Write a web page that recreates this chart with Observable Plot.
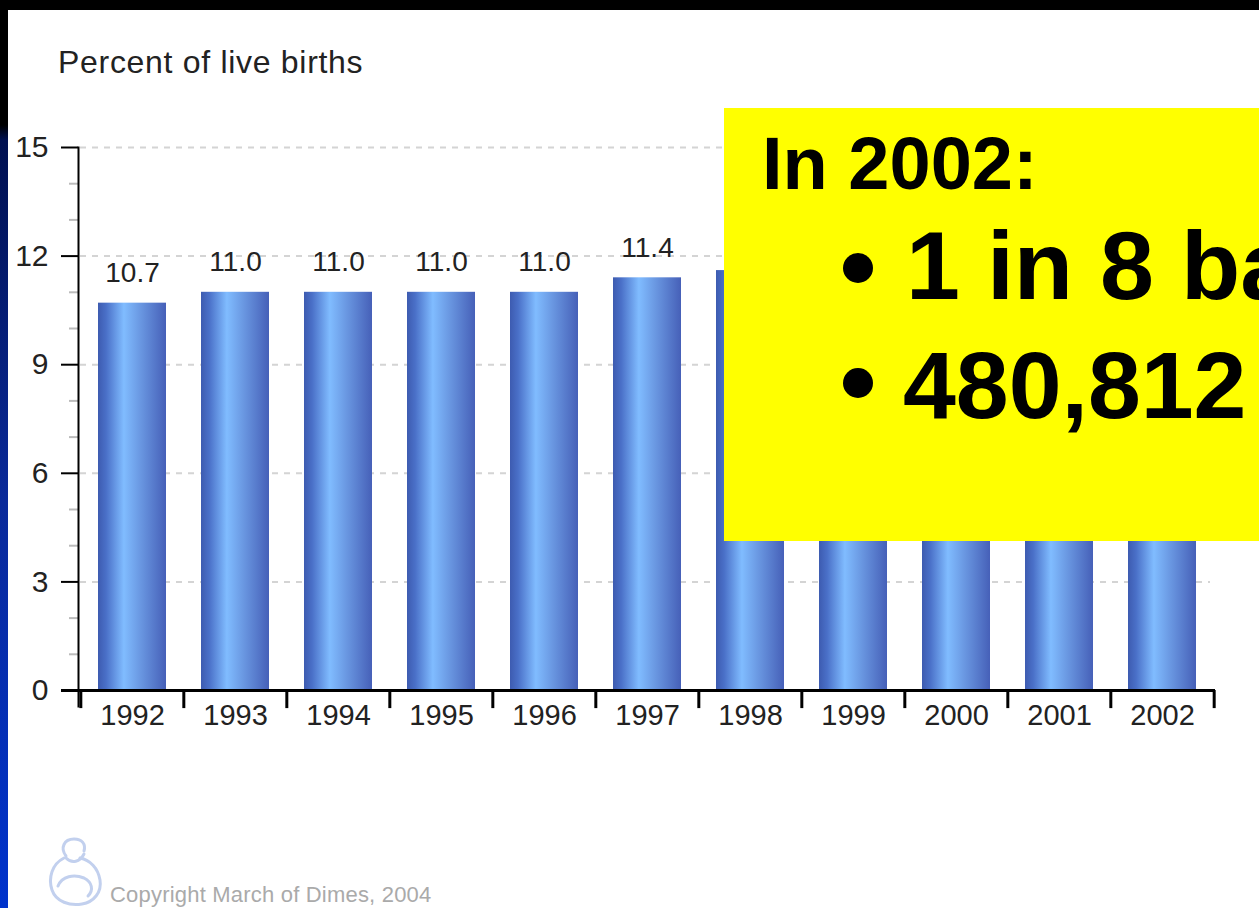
<!DOCTYPE html>
<html>
<head>
<meta charset="utf-8">
<script src="https://cdn.jsdelivr.net/npm/d3@7"></script>
<script src="https://cdn.jsdelivr.net/npm/@observablehq/plot@0.6"></script>
<style>
  html, body { margin: 0; padding: 0; }
  body { width: 1259px; height: 908px; overflow: hidden; position: relative; background: #fff;
         font-family: "Liberation Sans", Arial, sans-serif; }
  #topbar { position: absolute; left: 0; top: 0; width: 1259px; height: 10px; background: #000; }
  #leftbar { position: absolute; left: 0; top: 0; width: 8px; height: 908px;
             background: linear-gradient(to bottom, #000 0px, #000 125px, #001050 140px, #0a2a9a 500px, #0033cc 908px); }
  #title { position: absolute; left: 58px; top: 44px; font-size: 32px; color: #222; letter-spacing: 0.7px; }
  #chart { position: absolute; left: 0; top: 0; }
  #box { position: absolute; left: 724px; top: 108px; width: 600px; height: 433px; background: #ffff00; z-index: 5; }
  .bt { position: absolute; font-weight: bold; color: #000; white-space: nowrap; line-height: 1; }
  .dot { position: absolute; width: 30px; height: 30px; border-radius: 50%; background: #000; }
  #copy { position: absolute; left: 110px; top: 882px; font-size: 22px; color: #aaa; white-space: nowrap; letter-spacing: 0.2px; }
  #logo { position: absolute; left: 44px; top: 834px; }
</style>
</head>
<body>
<div id="topbar"></div>
<div id="leftbar"></div>
<div id="title">Percent of live births</div>
<div id="chart"></div>
<div id="box">
  <div class="bt" id="l1" style="left:38px; top:19px; font-size:74px;">In 2002:</div>
  <div class="dot" style="left:119px; top:145px;"></div>
  <div class="bt" id="l2" style="left:182px; top:109px; font-size:97px;">1 in 8 babies was born preterm</div>
  <div class="dot" style="left:119px; top:260px;"></div>
  <div class="bt" id="l3" style="left:179px; top:230px; font-size:95px;">480,812 babies</div>
</div>
<svg id="logo" width="64" height="74" viewBox="0 0 64 74">
  <g fill="none" stroke="#c2d0ee" stroke-width="3" stroke-linecap="round">
    <path d="M22 22 C16 14 20 5 30 5 C38 5 42 10 40 17"/>
    <path d="M20 24 C8 30 4 44 8 56 C12 68 26 72 38 70 C50 68 58 58 56 46 C54 34 46 26 36 24"/>
    <path d="M14 52 C18 42 30 40 40 44 C48 48 50 56 44 62"/>
    <path d="M22 24 C28 30 36 28 40 20"/>
  </g>
</svg>
<div id="copy">Copyright March of Dimes, 2004</div>
<script>
const years = ["1992","1993","1994","1995","1996","1997","1998","1999","2000","2001","2002"];
const rates = [10.7, 11.0, 11.0, 11.0, 11.0, 11.4, 11.6, 11.8, 11.6, 11.9, 12.1];
const majorTicks = [0, 3, 6, 9, 12, 15];
const minorTicks = [1, 2, 4, 5, 7, 8, 10, 11, 13, 14];
const gridValues = [3, 6, 9, 12, 15];

const data = years.map((y, i) => ({year: y, rate: rates[i]}));

const W = 1259, H = 760, mL = 78, mR = 44, mT = 147, mB = 70;
const step = (W - mL - mR) / years.length;

const plot = Plot.plot({
  width: W, height: H,
  marginLeft: mL, marginRight: mR, marginTop: mT, marginBottom: mB,
  style: {fontFamily: "'Liberation Sans', Arial, sans-serif", background: "transparent", overflow: "visible"},
  x: {domain: years, paddingInner: 0.34, paddingOuter: 0.17, label: null},
  y: {domain: [0, 15], label: null},
  marks: [
    Plot.ruleY(gridValues, {stroke: "#d4d4d4", strokeWidth: 2, strokeDasharray: "6,6", insetLeft: 2, insetRight: 5}),
    Plot.barY(data, {x: "year", y: "rate", fill: "url(#barGrad)"}),
    Plot.text(data, {x: "year", y: "rate", text: d => d.rate.toFixed(1), dy: -30, fontSize: 28, fill: "#222"}),
    Plot.axisY({ticks: minorTicks, tickSize: 9, stroke: "#bbb", strokeWidth: 2, tickFormat: () => "", label: null}),
    Plot.axisY({ticks: majorTicks, tickSize: 17, tickPadding: 13, strokeWidth: 2, fontSize: 30, color: "#222", stroke: "#000", label: null}),
    Plot.axisX({tickSize: 0, tickPadding: 14, fontSize: 29, color: "#222", label: null}),
    Plot.ruleX(data, {x: "year", y1: 0, y2: -0.5, dx: -step / 2, strokeWidth: 3, stroke: "#000"}),
    Plot.ruleX(data.slice(-1), {x: "year", y1: 0, y2: -0.5, dx: step / 2, strokeWidth: 3, stroke: "#000"}),
    Plot.ruleY([0], {stroke: "#000", strokeWidth: 3, insetLeft: -17}),
    Plot.frame({anchor: "left", stroke: "#000", strokeWidth: 2, insetBottom: -16})
  ]
});

const ns = "http://www.w3.org/2000/svg";
const defs = document.createElementNS(ns, "defs");
defs.innerHTML = `<linearGradient id="barGrad" x1="0" x2="1" y1="0" y2="0">
  <stop offset="0" stop-color="#3d5bb0"/>
  <stop offset="0.12" stop-color="#4a70c8"/>
  <stop offset="0.38" stop-color="#80bcff"/>
  <stop offset="0.62" stop-color="#6a98e2"/>
  <stop offset="1" stop-color="#4660b8"/>
</linearGradient>`;
plot.insertBefore(defs, plot.firstChild);
document.getElementById("chart").appendChild(plot);
</script>
</body>
</html>
